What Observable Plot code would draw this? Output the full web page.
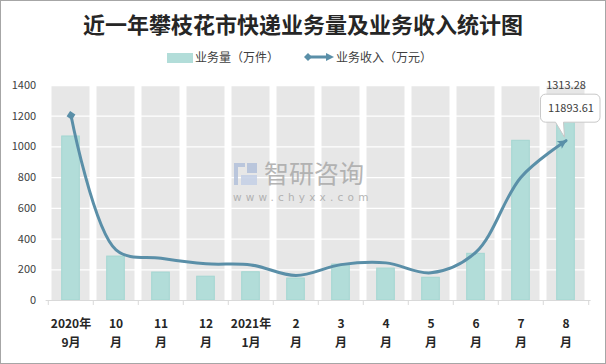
<!DOCTYPE html>
<html><head><meta charset="utf-8">
<script src="https://cdn.jsdelivr.net/npm/d3@7"></script>
<script src="https://cdn.jsdelivr.net/npm/@observablehq/plot@0.6"></script>
<style>
body{margin:0;background:#fff;}
#wrap{position:relative;width:606px;height:364px;overflow:hidden;font-family:"Noto Sans CJK SC","Microsoft YaHei",sans-serif;background:#fff;}
#title{position:absolute;left:0;top:8px;width:606px;text-align:center;font-size:22px;font-weight:bold;color:#262626;line-height:30px;}
.lg{position:absolute;font-size:12px;color:#404040;line-height:16px;top:49px;white-space:nowrap;}
#chart{position:absolute;left:0;top:72px;}
.wm{position:absolute;pointer-events:none;color:#a9a9a9;opacity:0.85;white-space:nowrap;}
#border{position:absolute;left:0;top:0;width:604px;height:362px;border:1px solid #a6a6a6;pointer-events:none;}
</style></head>
<body>
<div id="wrap">
  <div id="title"></div>
  <div id="legend"></div>
  <div id="chart"></div>
  <svg class="wm" width="24" height="23" style="left:234px;top:163px">
    <rect x="0" y="0" width="11" height="4" fill="#b3c1db"/>
    <rect x="0" y="0" width="4" height="22" fill="#b3c1db"/>
    <rect x="13" y="0" width="10" height="10" fill="#b3c1db"/>
    <rect x="7" y="12" width="16" height="10" fill="#c4d0e6"/>
  </svg>
  <div class="wm" style="left:264px;top:154px;font-size:25px;line-height:36px;">智研咨询</div>
  <div class="wm" style="left:233px;top:191px;font-family:'DejaVu Sans',sans-serif;font-size:10.5px;line-height:12px;letter-spacing:4.2px;">www.chyxx.com</div>
  <div id="border"></div>
</div>
<script>
const title = "近一年攀枝花市快递业务量及业务收入统计图";
const seriesNames = ["业务量（万件）", "业务收入（万元）"];
const categories = ["2020年9月","10月","11月","12月","2021年1月","2月","3月","4月","5月","6月","7月","8月"];
const tickLabels = ["2020年\n9月","10\n月","11\n月","12\n月","2021年\n1月","2\n月","3\n月","4\n月","5\n月","6\n月","7\n月","8\n月"];
const volume = [1068, 286, 182, 155, 184, 143, 234, 208, 148, 304, 1040, 1313.28];
const revenue = [13770, 3770, 3150, 2730, 2650, 1860, 2670, 2800, 2060, 3600, 9180, 11893.61];
const yTicks = [0, 200, 400, 600, 800, 1000, 1200, 1400];
const yMax = 1400;
const revAxisMax = 16000; // hidden secondary axis

const barColor = "#b2ddd9", barStroke = "#a3d6d1", lineColor = "#5a8fa8", colColor = "#e7e7e7";

document.getElementById("title").textContent = title;

// legend
const lg = document.getElementById("legend");
lg.innerHTML = `
 <div style="position:absolute;left:167px;top:53px;width:26px;height:10px;background:${barColor}"></div>
 <div class="lg" style="left:195px">${seriesNames[0]}</div>
 <svg style="position:absolute;left:304px;top:51px" width="31" height="12">
   <line x1="4" y1="6" x2="26" y2="6" stroke="${lineColor}" stroke-width="3"/>
   <path d="M0,6L4,2L8,6L4,10Z" fill="${lineColor}"/>
   <path d="M22,2L30,6L22,10Z" fill="${lineColor}"/>
 </svg>
 <div class="lg" style="left:336px">${seriesNames[1]}</div>`;

const data = categories.map((c, i) => ({cat: c, label: tickLabels[i], vol: volume[i], rev: revenue[i], revY: revenue[i] * yMax / revAxisMax}));

const W = 606, H = 292, mL = 45.6, mR = 15.4, mT = 13, mB = 64;
const bw = (W - mL - mR) / categories.length;
const plotH = H - mT - mB;
const last = data[data.length - 1];

const chart = Plot.plot({
  width: W, height: H,
  marginLeft: mL, marginRight: mR, marginTop: mT, marginBottom: mB,
  style: {fontFamily: '"Noto Sans CJK SC", sans-serif', background: "transparent"},
  x: {type: "band", domain: categories, padding: 0, axis: null},
  y: {domain: [0, yMax], axis: null},
  marks: [
    Plot.barY(data, {x: "cat", y: () => yMax, fill: colColor, insetLeft: 3.5, insetRight: 3.5}),
    Plot.ruleY(yTicks.filter(d => d > 0), {stroke: "white", strokeWidth: 1.3}),
    Plot.barY(data, {x: "cat", y: "vol", fill: barColor, stroke: barStroke, strokeWidth: 1, insetLeft: 13.7, insetRight: 13.7}),
    Plot.ruleY([0], {stroke: "#d9d9d9", strokeWidth: 1}),
    Plot.ruleX(data, {x: "cat", dx: -bw / 2, stroke: "#d9d9d9", insetTop: plotH, insetBottom: -5}),
    Plot.ruleX([last], {x: "cat", dx: bw / 2, stroke: "#d9d9d9", insetTop: plotH, insetBottom: -5}),
    Plot.axisY({ticks: yTicks, tickSize: 0, tickPadding: 10, fontSize: 11, fill: "#404040", label: null, tickFormat: d => String(d)}),
    Plot.text(data, {x: "cat", y: 0, text: "label", dy: 13, lineAnchor: "top", lineHeight: 1.65, fontSize: 12, fontWeight: "bold", fill: "#262626"}),
    Plot.line(data, {x: "cat", y: "revY", stroke: lineColor, strokeWidth: 3, curve: "catmull-rom"}),
    Plot.text([last], {x: "cat", y: "vol", text: d => d.vol.toFixed(2), dy: -13, fontSize: 11, fill: "#404040"}),
    Plot.text([last], {x: "cat", y: "revY", text: d => d.rev.toFixed(2), dx: 5, dy: -32, fontSize: 11, fill: "#404040"})
  ]
});
document.getElementById("chart").appendChild(chart);

// markers for the line (diamond at start, arrow at end)
const svg = d3.select(chart);
const defs = svg.insert("defs", ":first-child");
defs.append("marker").attr("id", "mStart").attr("viewBox", "-6 -6 12 12")
  .attr("markerWidth", 12).attr("markerHeight", 12).attr("markerUnits", "userSpaceOnUse").attr("orient", "auto")
  .append("path").attr("d", "M0,-4.5L4.5,0L0,4.5L-4.5,0Z").attr("fill", lineColor);
defs.append("marker").attr("id", "mEnd").attr("viewBox", "-10 -6 12 12")
  .attr("markerWidth", 12).attr("markerHeight", 12).attr("markerUnits", "userSpaceOnUse").attr("orient", "auto")
  .append("path").attr("d", "M-8,-4.5L1,0L-8,4.5L-6,0Z").attr("fill", lineColor);
svg.selectAll('g[aria-label="line"] path')
  .attr("marker-start", "url(#mStart)").attr("marker-end", "url(#mEnd)")
  .attr("stroke-linecap", "round");

// callout box around the revenue label
const sx = chart.scale("x"), sy = chart.scale("y");
const px = sx.apply(last.cat) + sx.bandwidth / 2, py = sy.apply(last.revY);
const L = px - 25, R = px + 34.5, T = py - 46, B = py - 18, r = 5;
const b1 = px - 10, b2 = px - 2;
const pathD = `M${L + r},${T}H${R - r}A${r},${r} 0 0 1 ${R},${T + r}V${B - r}A${r},${r} 0 0 1 ${R - r},${B}H${b2}L${px - 1},${py - 3}L${b1},${B}H${L + r}A${r},${r} 0 0 1 ${L},${B - r}V${T + r}A${r},${r} 0 0 1 ${L + r},${T}Z`;
const textG = svg.selectAll('g[aria-label="text"]').filter((d, i, n) => i === n.length - 1);
svg.node().insertBefore(
  (() => { const p = document.createElementNS("http://www.w3.org/2000/svg", "path");
    p.setAttribute("d", pathD); p.setAttribute("fill", "white"); p.setAttribute("stroke", "#c8c8c8"); p.setAttribute("stroke-width", "1"); return p; })(),
  textG.node()
);
</script>
</body></html>
